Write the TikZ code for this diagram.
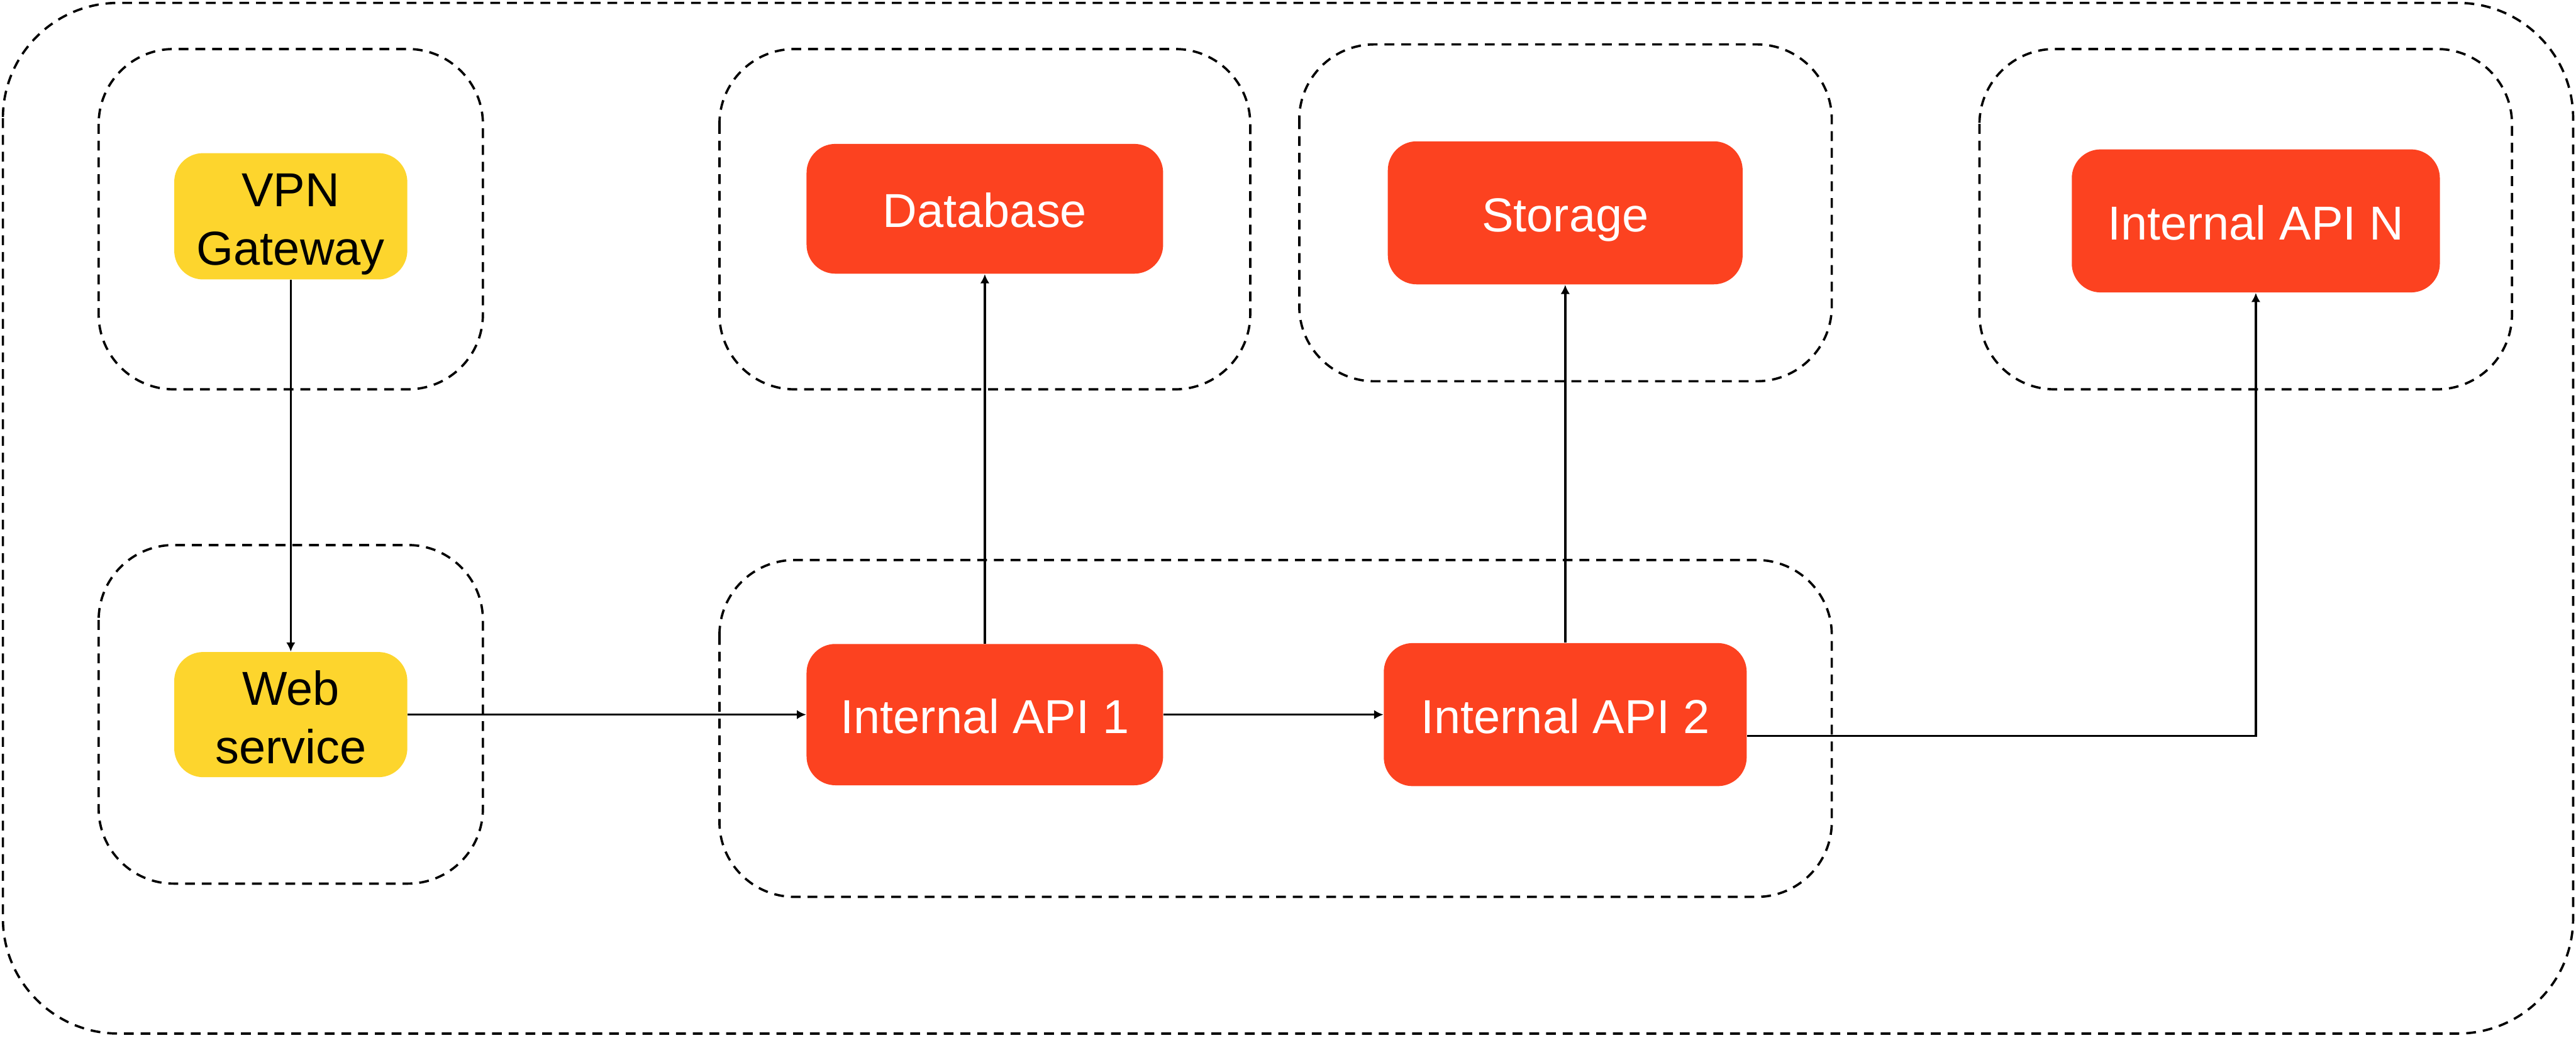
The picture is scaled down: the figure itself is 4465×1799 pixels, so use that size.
\documentclass[tikz,border=0pt]{standalone}
\usepackage{fontspec}
\setmainfont{Liberation Sans}
\usetikzlibrary{arrows.meta}

\tikzset{
  zone/.style={draw,line width=0.4mm,dash pattern=on 1.7mm off 1.2mm,rounded corners=13mm},
  gate/.style={fill=gateyellow,rounded corners=5mm,align=center,font=\fontsize{23.5}{28.7}\selectfont,inner sep=0pt,text height=48pt,text depth=0pt},
  svc/.style={fill=svcred,text=white,rounded corners=5mm,align=center,font=\fontsize{23.5}{28.7}\selectfont,inner sep=0pt,text height=18.5pt,text depth=0pt},
  link/.style={line width=0.37mm,-{Latex[length=1.6mm,width=1.6mm]}}
}
\definecolor{gateyellow}{HTML}{FDD52D}
\definecolor{svcred}{HTML}{FC4220}

\begin{document}
\begin{tikzpicture}[x=0.1mm,y=-0.1mm]
\useasboundingbox (0,0) rectangle (4465,1799);
\draw[zone,rounded corners=20mm] (5,5) rectangle (4460,1792);
\draw[zone] (171,85) rectangle (837,675);
\draw[zone] (171,945) rectangle (837,1532);
\draw[zone] (1247,85) rectangle (2167,675);
\draw[zone] (2252,77) rectangle (3175,661);
\draw[zone] (3431,85) rectangle (4354,675);
\draw[zone] (1247,971) rectangle (3175,1555);

\node[gate,minimum width=40.4mm,minimum height=21.9mm] (vpn) at (504,375) {VPN\\Gateway};
\node[gate,minimum width=40.4mm,minimum height=21.7mm] (web) at (504,1239) {Web\\service};
\node[svc,minimum width=61.8mm,minimum height=22.5mm] (db) at (1707,362) {Database};
\node[svc,minimum width=61.5mm,minimum height=24.8mm] (storage) at (2713,369) {Storage};
\node[svc,minimum width=63.8mm,minimum height=24.8mm] (apin) at (3910,383) {Internal API N};
\node[svc,minimum width=61.8mm,minimum height=24.5mm] (api1) at (1707,1239) {Internal API 1};
\node[svc,minimum width=62.9mm,minimum height=24.8mm] (api2) at (2713,1239) {Internal API 2};

\draw[link] (vpn) -- (web);
\draw[link] (web) -- (api1);
\draw[link] (api1) -- (db);
\draw[link] (api1) -- (api2);
\draw[link] (api2) -- (storage);
\draw[link] (api2.east) ++(0,37) -| (apin.south);
\end{tikzpicture}
\end{document}
